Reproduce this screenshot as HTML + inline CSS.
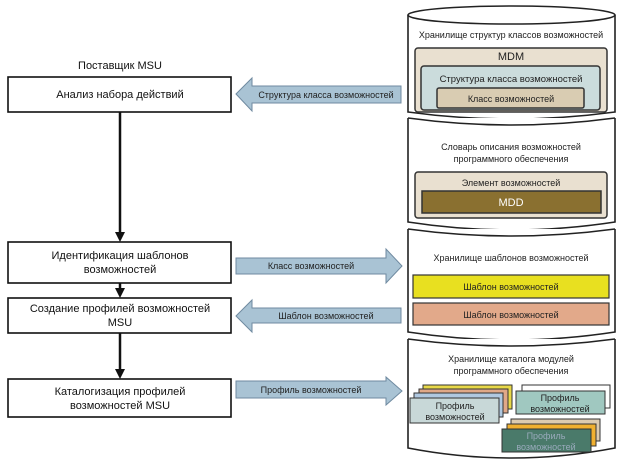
<!DOCTYPE html>
<html><head><meta charset="utf-8"><style>
body{margin:0;background:#fff;}
svg{display:block;font-family:"Liberation Sans",sans-serif;}
</style></head><body>
<svg width="623" height="469" viewBox="0 0 623 469">
<g fill="#fff" stroke="#222" stroke-width="1.6">
<path d="M408,15 L408,112 Q511,126 615,112 L615,15"/>
<ellipse cx="511.5" cy="15" rx="103.5" ry="9"/>
<path d="M408,118 L408,222 Q511,238 615,222 L615,118"/>
<path d="M408,118 Q511,132 615,118" fill="none"/>
<path d="M408,229 L408,332 Q511,348 615,332 L615,229"/>
<path d="M408,229 Q511,243 615,229" fill="none"/>
<path d="M408,339 L408,448 Q511,468 615,448 L615,339"/>
<path d="M408,339 Q511,353 615,339" fill="none"/>
</g>
<g font-size="9" fill="#222" text-anchor="middle">
<text x="511" y="38">Хранилище структур классов возможностей</text>
<rect x="415" y="48" width="192" height="64" rx="3" fill="#e9e0d0" stroke="#333" stroke-width="1.5"/>
<text x="511" y="60" font-size="11">MDM</text>
<rect x="421" y="66" width="179" height="44" rx="3" fill="#cbdcdc" stroke="#333" stroke-width="1.5"/>
<text x="511" y="82" font-size="9.5">Структура класса возможностей</text>
<rect x="437" y="88" width="147" height="20" rx="2" fill="#d9ccb2" stroke="#333" stroke-width="1.5"/>
<text x="511" y="102">Класс возможностей</text>

<text x="511" y="150">Словарь описания возможностей</text>
<text x="511" y="162">программного обеспечения</text>
<rect x="415" y="172" width="192" height="46" rx="3" fill="#e9e0d0" stroke="#333" stroke-width="1.5"/>
<text x="511" y="186">Элемент возможностей</text>
<rect x="422" y="191" width="179" height="22" fill="#8a7030" stroke="#333" stroke-width="1.5"/>
<text x="511" y="206" font-size="11" fill="#fff">MDD</text>

<text x="511" y="261">Хранилище шаблонов возможностей</text>
<rect x="413" y="275" width="196" height="23" fill="#e8e020" stroke="#333" stroke-width="1.2"/>
<text x="511" y="290">Шаблон возможностей</text>
<rect x="413" y="303" width="196" height="22" fill="#e2a98a" stroke="#333" stroke-width="1.2"/>
<text x="511" y="318">Шаблон возможностей</text>

<text x="511" y="362">Хранилище каталога модулей</text>
<text x="511" y="374">программного обеспечения</text>
<g stroke="#333" stroke-width="1">
<rect x="423" y="385" width="89" height="24" fill="#e8d848"/>
<rect x="419" y="389" width="89" height="24" fill="#e0a888"/>
<rect x="414" y="393" width="89" height="24" fill="#b0c8e0"/>
<rect x="410" y="398" width="89" height="25" fill="#c8d8d8"/>
<rect x="522" y="385" width="88" height="23" fill="#fff"/>
<rect x="516" y="391" width="89" height="23" fill="#a0c8c0"/>
<rect x="511" y="419" width="89" height="22" fill="#dccbb0"/>
<rect x="507" y="424" width="89" height="22" fill="#f0b030"/>
<rect x="502" y="429" width="89" height="23" fill="#4a7a6a"/>
</g>
<text x="455" y="409">Профиль</text><text x="455" y="420">возможностей</text>
<text x="560" y="401">Профиль</text><text x="560" y="412">возможностей</text>
<text x="546" y="439" fill="#9ab">Профиль</text><text x="546" y="450" fill="#9ab">возможностей</text>
</g>

<g font-size="11" fill="#111" text-anchor="middle">
<text x="120" y="69">Поставщик MSU</text>
<g fill="#fff" stroke="#111" stroke-width="1.6">
<rect x="8" y="77" width="223" height="35"/>
<rect x="8" y="242" width="223" height="41"/>
<rect x="8" y="298" width="223" height="35"/>
<rect x="8" y="379" width="223" height="38"/>
</g>
<text x="120" y="98">Анализ набора действий</text>
<text x="120" y="259">Идентификация шаблонов</text><text x="120" y="273">возможностей</text>
<text x="120" y="312">Создание профилей возможностей</text><text x="120" y="326">MSU</text>
<text x="120" y="395">Каталогизация профилей</text><text x="120" y="409">возможностей MSU</text>
</g>
<g stroke="#111" stroke-width="2.5">
<line x1="120" y1="112" x2="120" y2="234"/>
<line x1="120" y1="283" x2="120" y2="290"/>
<line x1="120" y1="333" x2="120" y2="371"/>
</g>
<g fill="#111">
<path d="M115,232 L125,232 L120,242 Z"/>
<path d="M115,288 L125,288 L120,298 Z"/>
<path d="M115,369 L125,369 L120,379 Z"/>
</g>
<g fill="#a9c3d4" stroke="#6f8aa0" stroke-width="1">
<path d="M236,94 L252,78 L252,86 L401,86 L401,103 L252,103 L252,111 Z"/>
<path d="M236,258 L386,258 L386,249 L402,266 L386,283 L386,274 L236,274 Z"/>
<path d="M236,316 L252,300 L252,308 L401,308 L401,323 L252,323 L252,332 Z"/>
<path d="M236,381 L386,381 L386,377 L402,391 L386,405 L386,398 L236,398 Z"/>
</g>
<g font-size="9" fill="#222" text-anchor="middle">
<text x="326" y="98">Структура класса возможностей</text>
<text x="311" y="269">Класс возможностей</text>
<text x="326" y="319">Шаблон возможностей</text>
<text x="311" y="393">Профиль возможностей</text>
</g>
</svg>
</body></html>
